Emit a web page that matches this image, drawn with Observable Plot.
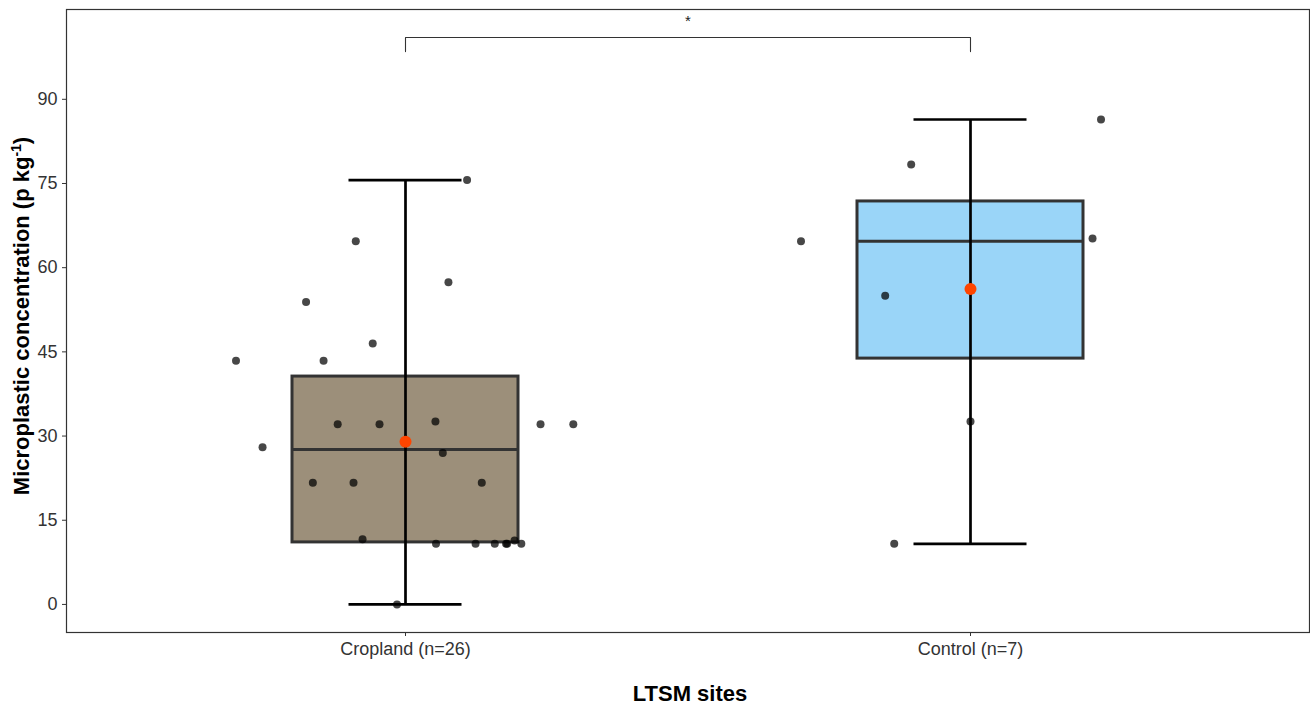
<!DOCTYPE html>
<html>
<head>
<meta charset="utf-8">
<script src="https://cdn.jsdelivr.net/npm/d3@7"></script>
<script src="https://cdn.jsdelivr.net/npm/@observablehq/plot@0.6"></script>
<style>
  body { margin: 0; background: #fff; }
  svg { display: block; }
</style>
</head>
<body>
<div id="chart"></div>
<script>
// ---- Data ----
const categories = ["Cropland (n=26)", "Control (n=7)"];
const whiskerLow  = [0, 10.8];
const q1          = [11.05, 43.8];
const median      = [27.6, 64.7];
const q3          = [40.6, 71.8];
const whiskerHigh = [75.6, 86.4];
const means       = [29.0, 56.2];

const cropValues = [75.6, 64.7, 57.4, 53.9, 46.5, 43.4, 43.4, 32.1, 32.1, 32.6, 32.1, 32.1, 28.0,
                    27.0, 21.7, 21.7, 21.7, 11.6, 10.8, 10.8, 10.8, 10.8, 10.8, 11.4, 10.8, 0];
const cropJitter = [0.109, -0.088, 0.076, -0.176, -0.058, -0.300, -0.145, -0.120, -0.046, 0.053, 0.239, 0.297, -0.253,
                    0.066, -0.164, -0.092, 0.135, -0.076, 0.054, 0.124, 0.158, 0.178, 0.180, 0.193, 0.205, -0.015];
const controlValues = [86.4, 78.4, 64.7, 65.2, 55.0, 32.6, 10.8];
const controlJitter = [0.231, -0.105, -0.300, 0.216, -0.151, 0.0, -0.135];

const yTicks = [0, 15, 30, 45, 60, 75, 90];
const significance = {from: categories[0], to: categories[1], label: "*", yTop: 101, yFoot: 98.5, yLabel: 104};

// ---- Styles ----
const boxFills = ["#9C8F7A", "#9AD5F8"];
const fontFamily = "'Liberation Sans', Arial, Helvetica, sans-serif";

// ---- Build tables ----
const boxes = categories.map((c, i) => ({
  cat: c, pos: i + 1,
  lo: whiskerLow[i], q1: q1[i], med: median[i], q3: q3[i], hi: whiskerHigh[i], mean: means[i]
}));
const points = [
  ...cropValues.map((v, i) => ({pos: 1 + cropJitter[i], v})),
  ...controlValues.map((v, i) => ({pos: 2 + controlJitter[i], v}))
];
const p1 = categories.indexOf(significance.from) + 1;
const p2 = categories.indexOf(significance.to) + 1;
const bracket = [
  {x: p1, y: significance.yFoot},
  {x: p1, y: significance.yTop},
  {x: p2, y: significance.yTop},
  {x: p2, y: significance.yFoot}
];

const chart = Plot.plot({
  width: 1310,
  height: 707,
  marginLeft: 66,
  marginRight: 1,
  marginTop: 9,
  marginBottom: 75,
  style: {fontFamily, fontSize: "18px", color: "#333", background: "#fff"},
  x: {domain: [0.4, 2.6], label: null, ticks: [1, 2], tickFormat: d => categories[d - 1], tickSize: 4, tickPadding: 6},
  y: {domain: [-5, 106], label: null, ticks: yTicks, tickSize: 4, tickPadding: 5},
  color: {domain: categories, range: boxFills},
  marks: [
    Plot.rect(boxes, {x1: d => d.pos - 0.2, x2: d => d.pos + 0.2, y1: "q1", y2: "q3", fill: "cat", stroke: "#333", strokeWidth: 3}),
    Plot.ruleY(boxes, {y: "med", x1: d => d.pos - 0.2, x2: d => d.pos + 0.2, stroke: "#333", strokeWidth: 3}),
    Plot.ruleX(boxes, {x: "pos", y1: "lo", y2: "hi", stroke: "#000", strokeWidth: 2.7}),
    Plot.ruleY(boxes, {y: "lo", x1: d => d.pos - 0.1, x2: d => d.pos + 0.1, stroke: "#000", strokeWidth: 2.7}),
    Plot.ruleY(boxes, {y: "hi", x1: d => d.pos - 0.1, x2: d => d.pos + 0.1, stroke: "#000", strokeWidth: 2.7}),
    Plot.dot(points, {x: "pos", y: "v", r: 4, fill: "#000", fillOpacity: 0.72, stroke: "none"}),
    Plot.dot(boxes, {x: "pos", y: "mean", r: 6, fill: "#FF4500", stroke: "none"}),
    Plot.line(bracket, {x: "x", y: "y", stroke: "#333", strokeWidth: 1.1}),
    Plot.text([significance], {x: (p1 + p2) / 2, y: "yLabel", text: "label", fontSize: 15, fill: "#222"}),
    Plot.frame({stroke: "#333", strokeWidth: 1.2})
  ]
});

const svg = d3.select(chart);
// x-axis title
svg.append("text")
  .attr("x", 690).attr("y", 701)
  .attr("text-anchor", "middle")
  .attr("font-family", fontFamily)
  .attr("font-weight", "bold")
  .attr("font-size", 22)
  .attr("fill", "#000")
  .text("LTSM sites");
// y-axis title with superscript
const yt = svg.append("text")
  .attr("transform", "translate(29,316) rotate(-90)")
  .attr("text-anchor", "middle")
  .attr("font-family", fontFamily)
  .attr("font-weight", "bold")
  .attr("font-size", 22)
  .attr("fill", "#000");
yt.append("tspan").text("Microplastic concentration (p kg");
yt.append("tspan").attr("baseline-shift", "super").attr("font-size", 14).text("-1");
yt.append("tspan").text(")");

document.getElementById("chart").appendChild(chart);
</script>
</body>
</html>
